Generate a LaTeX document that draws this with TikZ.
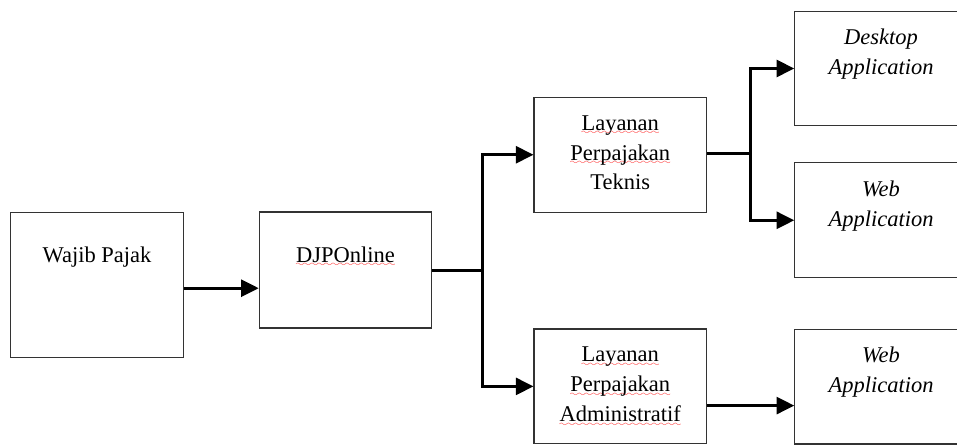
\documentclass[tikz,border=0pt]{standalone}
\usepackage{fontspec}
\setmainfont{Liberation Serif}
\usetikzlibrary{positioning,arrows.meta}

% red spell-check wave under a word
\font\wavefont=lasy6\relax
\newcommand\typo[1]{\setbox0=\hbox{#1}\leavevmode
  \rlap{\lower3.2pt\hbox to\wd0{\color{red!90!white}\xleaders\hbox{\wavefont\char58}\hfill}}\box0}

\begin{document}
\begin{tikzpicture}[
    >={Triangle[length=12.5pt,width=12pt]},
    box/.style={draw=black!80, line width=0.8pt, minimum width=4.31cm, minimum height=2.87cm, inner sep=0pt},
    txt/.style={anchor=base, align=center, text=black, font=\fontsize{16}{21.3}\selectfont},
    itxt/.style={txt, font=\fontsize{16}{21.3}\selectfont\itshape},
    wire/.style={line width=2.1pt},
  ]
    \useasboundingbox (0,0) rectangle (23.925,11.125);

    % ---------- boxes ----------
    \node[box, minimum height=3.625cm] (wp) at (2.425,4.01) {};
    \node[box, minimum height=2.9cm] (djp) at (8.6375,4.375) {};
    \node[box] (teknis) at (15.506,7.256) {};
    \node[box] (admin) at (15.506,1.465) {};
    \node[box] (desk) at (22.025,9.4125) {};
    \node[box] (web) at (22.025,5.6175) {};
    \node[box] (webb) at (22.025,1.459) {};

    % ---------- texts (base = last line) ----------
    \node[txt] (wp-t) at ([yshift=-1.27cm]wp.north) {Wajib Pajak};
    \node[txt] (djp-t) at ([yshift=-1.27cm]djp.north) {\typo{DJPOnline}};
    \node[txt] (teknis-t) at ([yshift=-2.33cm]teknis.north)
      {\typo{Layanan}\\ \typo{Perpajakan}\\ Teknis};
    \node[txt] (admin-t) at ([yshift=-2.33cm]admin.north)
      {\typo{Layanan}\\ \typo{Perpajakan}\\ \typo{Administratif}};
    \node[itxt] (desk-t) at ([yshift=-1.6cm]desk.north) {Desktop\\ Application};
    \node[itxt] (web-t) at ([yshift=-1.6cm]web.north) {Web\\ Application};
    \node[itxt] (webb-t) at ([yshift=-1.6cm]webb.north) {Web\\ Application};

    % ---------- connectors ----------
    \coordinate (wp-out) at ([yshift=-0.09cm]wp.east);
    \draw[wire,->] (wp-out) -- (wp-out -| djp.west);

    \coordinate (djp-out) at ([yshift=-0.02cm]djp.east);
    \coordinate (fork1) at ([xshift=1.26cm]djp-out);
    \draw[wire] (fork1) -- (djp-out);
    \draw[wire,->] (fork1) |- (teknis.west);
    \draw[wire,->] (fork1) |- (admin.west);

    \coordinate (teknis-out) at ([yshift=0.04cm]teknis.east);
    \coordinate (fork2) at ([xshift=1.09cm]teknis-out);
    \draw[wire] (fork2) -- (teknis-out);
    \draw[wire,->] (fork2) |- (desk.west);
    \draw[wire,->] (fork2) |- (web.west);

    \coordinate (admin-out) at ([yshift=-0.48cm]admin.east);
    \draw[wire,->] (admin-out) -- (admin-out -| webb.west);
\end{tikzpicture}
\end{document}
